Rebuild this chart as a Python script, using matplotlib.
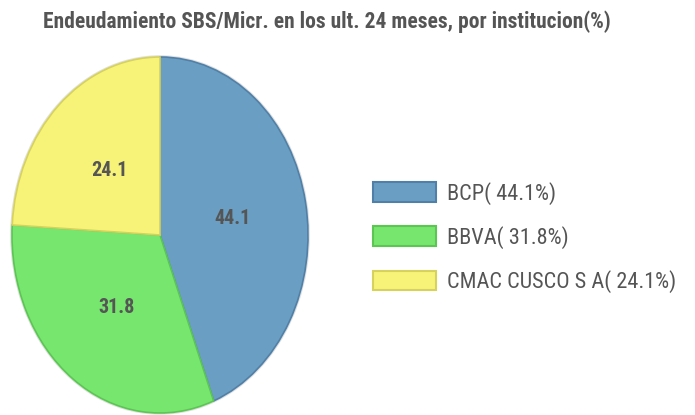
import matplotlib
matplotlib.use("Agg")
import matplotlib.pyplot as plt
from matplotlib.patches import Ellipse, Patch

# Data
instituciones = ["BCP", "BBVA", "CMAC CUSCO S A"]
porcentajes = [44.1, 31.8, 24.1]

FILLS = ["#6a9ec2", "#76e66e", "#f7f278"]
EDGES = ["#5080a8", "#5cc653", "#d6d25c"]
TEXT_GREY = "#555555"
FONT = ["Roboto Condensed", "DejaVu Sans"]

fig = plt.figure(figsize=(6.95, 4.15), dpi=100)

# pie axes placed in pixel terms; aspect left free so the pie is an ellipse
ax = fig.add_axes([12 / 695, 2 / 415, 296 / 695, 356 / 415])
ax.add_patch(Ellipse((0, 0), 2.025, 2.02, facecolor="#e0e0e0", edgecolor="none",
                     zorder=0, clip_on=False))
wedges, _, autotexts = ax.pie(
    porcentajes,
    colors=FILLS,
    startangle=90,
    counterclock=False,
    autopct=lambda p: f"{p:.1f}",
    pctdistance=0.5,
    wedgeprops={"linewidth": 1.2, "clip_on": False},
    textprops={"fontsize": 14.5, "fontweight": "bold", "color": TEXT_GREY, "family": FONT},
)
for w, ec in zip(wedges, EDGES):
    w.set_edgecolor(ec)
ax.set_aspect("auto")
ax.set_xlim(-1, 1)
ax.set_ylim(-1, 1)
ax.axis("off")

fig.text(0.5 * (42 + 612) / 695, 1 - 22 / 415,
         "Endeudamiento SBS/Micr. en los ult. 24 meses, por institucion(%)",
         ha="center", va="center", fontsize=15.5, fontweight="bold",
         color=TEXT_GREY, family=FONT)

handles = [Patch(facecolor=f, edgecolor=e, linewidth=1.5) for f, e in zip(FILLS, EDGES)]
labels = [f"{n}( {v:.1f}%)" for n, v in zip(instituciones, porcentajes)]
leg = fig.legend(
    handles, labels,
    loc="upper left", bbox_to_anchor=(373 / 695, 1 - 182 / 415),
    frameon=False,
    prop={"family": FONT, "size": 16},
    handlelength=2.84, handleheight=1.0,
    labelspacing=0.95, handletextpad=0.5, borderpad=0, borderaxespad=0,
)
for t in leg.get_texts():
    t.set_color(TEXT_GREY)

plt.savefig("out.png", dpi=100)
plt.close(fig)
